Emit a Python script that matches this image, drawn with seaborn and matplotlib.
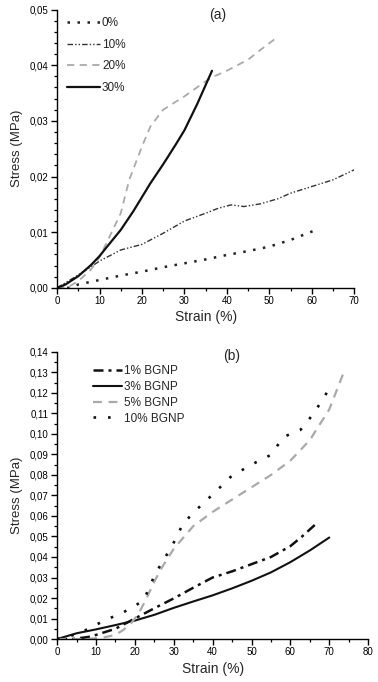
import matplotlib
matplotlib.use("Agg")
import matplotlib.pyplot as plt
from matplotlib.ticker import MultipleLocator, FuncFormatter
import seaborn as sns
import pandas as pd

# ---- Panel (a) data ----
a0_x = [0, 3, 5, 10, 15, 20, 25, 30, 35, 40, 45, 50, 55, 61]
a0_y = [0, 0.0, 0.0006, 0.0014, 0.0022, 0.0029, 0.0037, 0.0044, 0.0051, 0.0059, 0.0066, 0.0074, 0.0086, 0.0104]
a10_x = [0, 5, 10, 15, 20, 25, 30, 35, 38, 41, 44, 48, 52, 55, 60, 65, 70]
a10_y = [0, 0.0023, 0.0048, 0.0068, 0.0078, 0.0098, 0.0120, 0.0134, 0.0143, 0.0149, 0.0146, 0.0151, 0.0160, 0.0170, 0.0182, 0.0194, 0.0212]
a20_x = [0, 3, 5, 8, 10, 12, 15, 17, 20, 22, 25, 30, 35, 37, 40, 45, 48, 52]
a20_y = [0, 0.0003, 0.0012, 0.0033, 0.0055, 0.0086, 0.0134, 0.0194, 0.0254, 0.0290, 0.0320, 0.0344, 0.0371, 0.0380, 0.0390, 0.0410, 0.0428, 0.0451]
a30_x = [0, 2, 5, 8, 10, 12, 15, 18, 20, 22, 25, 28, 30, 33, 36.5]
a30_y = [0, 0.0006, 0.0021, 0.0041, 0.0057, 0.0076, 0.0104, 0.0138, 0.0163, 0.0188, 0.0222, 0.0258, 0.0283, 0.0330, 0.0390]
a_labels = ["0%", "10%", "20%", "30%"]

# ---- Panel (b) data ----
b1_x = [0, 4, 8, 10, 15, 20, 25, 30, 35, 40, 45, 50, 55, 60, 63, 66.5]
b1_y = [0, 0.0, 0.0010, 0.0020, 0.0050, 0.0100, 0.0150, 0.0198, 0.0250, 0.0300, 0.0330, 0.0365, 0.0400, 0.0453, 0.0500, 0.0560]
b3_x = [0, 5, 10, 15, 20, 25, 30, 35, 40, 45, 50, 55, 60, 65, 70]
b3_y = [0, 0.0028, 0.0047, 0.0068, 0.0090, 0.0118, 0.0152, 0.0183, 0.0213, 0.0247, 0.0284, 0.0325, 0.0375, 0.0432, 0.0495]
b5_x = [0, 8, 12, 15, 17, 19, 21, 23, 25, 27, 30, 35, 40, 45, 50, 55, 60, 65, 70, 73.5]
b5_y = [0, 0.0, 0.0008, 0.0020, 0.0044, 0.0076, 0.0125, 0.0198, 0.0280, 0.0350, 0.0440, 0.0550, 0.0620, 0.0680, 0.0740, 0.0800, 0.0870, 0.0970, 0.1120, 0.1290]
b10_x = [0, 3, 6.4, 9.8, 13.6, 17, 19.7, 22.3, 25.3, 29.6, 32.2, 34.7, 40.3, 44.6, 49.7, 54.9, 58.3, 62.6, 66, 69, 70.8]
b10_y = [0, 0.0012, 0.0034, 0.0068, 0.0102, 0.0130, 0.0158, 0.0190, 0.0320, 0.0455, 0.0555, 0.0610, 0.0710, 0.0790, 0.0848, 0.0897, 0.0986, 0.1020, 0.1100, 0.1190, 0.1246]
b_labels = ["1% BGNP", "3% BGNP", "5% BGNP", "10% BGNP"]

sns.set_style("ticks")
plt.rcParams['font.family'] = ['Liberation Sans', 'DejaVu Sans']

fig = plt.figure(figsize=(3.78, 6.82), dpi=100)
ax1 = fig.add_axes([0.151, 0.578, 0.786, 0.408])
ax2 = fig.add_axes([0.151, 0.063, 0.823, 0.421])


def fmt(dec):
    return FuncFormatter(lambda v, p: (f"{v:.{dec}f}").replace(".", ","))


def style(ax):
    for s in ["top", "right"]:
        ax.spines[s].set_visible(False)
    for s in ["left", "bottom"]:
        ax.spines[s].set_linewidth(1.0)
        ax.spines[s].set_color("black")
    ax.tick_params(which="major", direction="out", length=4, width=1, labelsize=7, colors="black", pad=2)
    ax.tick_params(which="minor", direction="out", length=2.2, width=0.9, colors="black")


# Panel (a)
dfa = pd.concat([
    pd.DataFrame({"x": a0_x, "y": a0_y, "s": a_labels[0]}),
    pd.DataFrame({"x": a10_x, "y": a10_y, "s": a_labels[1]}),
    pd.DataFrame({"x": a20_x, "y": a20_y, "s": a_labels[2]}),
    pd.DataFrame({"x": a30_x, "y": a30_y, "s": a_labels[3]}),
])
styles_a = {
    "0%": dict(color="#222222", lw=1.8, ls=(0, (1, 3))),
    "10%": dict(color="#333333", lw=1.0, ls=(0, (4, 1.5, 1, 1.5, 1, 1.5))),
    "20%": dict(color="#aaaaaa", lw=1.3, ls=(0, (4, 3))),
    "30%": dict(color="#111111", lw=1.6, ls="-"),
}
for lab in a_labels:
    d = dfa[dfa.s == lab]
    sns.lineplot(data=d, x="x", y="y", ax=ax1, label=lab, estimator=None, sort=False,
                 color=styles_a[lab]["color"], linewidth=styles_a[lab]["lw"], linestyle=styles_a[lab]["ls"])
ax1.set_xlim(0, 70)
ax1.set_ylim(0, 0.05)
ax1.xaxis.set_major_locator(MultipleLocator(10))
ax1.xaxis.set_minor_locator(MultipleLocator(5))
ax1.yaxis.set_major_locator(MultipleLocator(0.01))
ax1.yaxis.set_minor_locator(MultipleLocator(0.002))
ax1.yaxis.set_major_formatter(fmt(2))
ax1.set_xlabel("Strain (%)", fontsize=10, labelpad=3)
ax1.set_ylabel("Stress (MPa)", fontsize=9.5, labelpad=5)
style(ax1)
ax1.text(0.54, 0.98, "(a)", transform=ax1.transAxes, fontsize=10, ha="center", va="center")
ax1.legend(loc="upper left", bbox_to_anchor=(0.018, 0.99), frameon=False, fontsize=8.5,
           handlelength=2.8, labelspacing=0.82, handletextpad=0.15, borderaxespad=0)

# Panel (b)
dfb = pd.concat([
    pd.DataFrame({"x": b1_x, "y": b1_y, "s": b_labels[0]}),
    pd.DataFrame({"x": b3_x, "y": b3_y, "s": b_labels[1]}),
    pd.DataFrame({"x": b5_x, "y": b5_y, "s": b_labels[2]}),
    pd.DataFrame({"x": b10_x, "y": b10_y, "s": b_labels[3]}),
])
styles_b = {
    "1% BGNP": dict(color="#111111", lw=1.8, ls=(0, (4, 2, 1.2, 2))),
    "3% BGNP": dict(color="#111111", lw=1.5, ls="-"),
    "5% BGNP": dict(color="#aaaaaa", lw=1.6, ls=(0, (4, 3))),
    "10% BGNP": dict(color="#111111", lw=1.9, ls=(0, (1, 4.5))),
}
for lab in b_labels:
    d = dfb[dfb.s == lab]
    sns.lineplot(data=d, x="x", y="y", ax=ax2, label=lab, estimator=None, sort=False,
                 color=styles_b[lab]["color"], linewidth=styles_b[lab]["lw"], linestyle=styles_b[lab]["ls"])
ax2.set_xlim(0, 80)
ax2.set_ylim(0, 0.14)
ax2.xaxis.set_major_locator(MultipleLocator(10))
ax2.xaxis.set_minor_locator(MultipleLocator(5))
ax2.yaxis.set_major_locator(MultipleLocator(0.01))
ax2.yaxis.set_minor_locator(MultipleLocator(0.005))
ax2.yaxis.set_major_formatter(fmt(2))
ax2.set_xlabel("Strain (%)", fontsize=10, labelpad=3)
ax2.set_ylabel("Stress (MPa)", fontsize=9.5, labelpad=5)
style(ax2)
ax2.text(0.56, 0.985, "(b)", transform=ax2.transAxes, fontsize=10, ha="center", va="center")
ax2.legend(loc="upper left", bbox_to_anchor=(0.10, 0.97), frameon=False, fontsize=8.5,
           handlelength=2.45, labelspacing=0.32, handletextpad=0.15, borderaxespad=0)

fig.savefig("out.png", dpi=100)
